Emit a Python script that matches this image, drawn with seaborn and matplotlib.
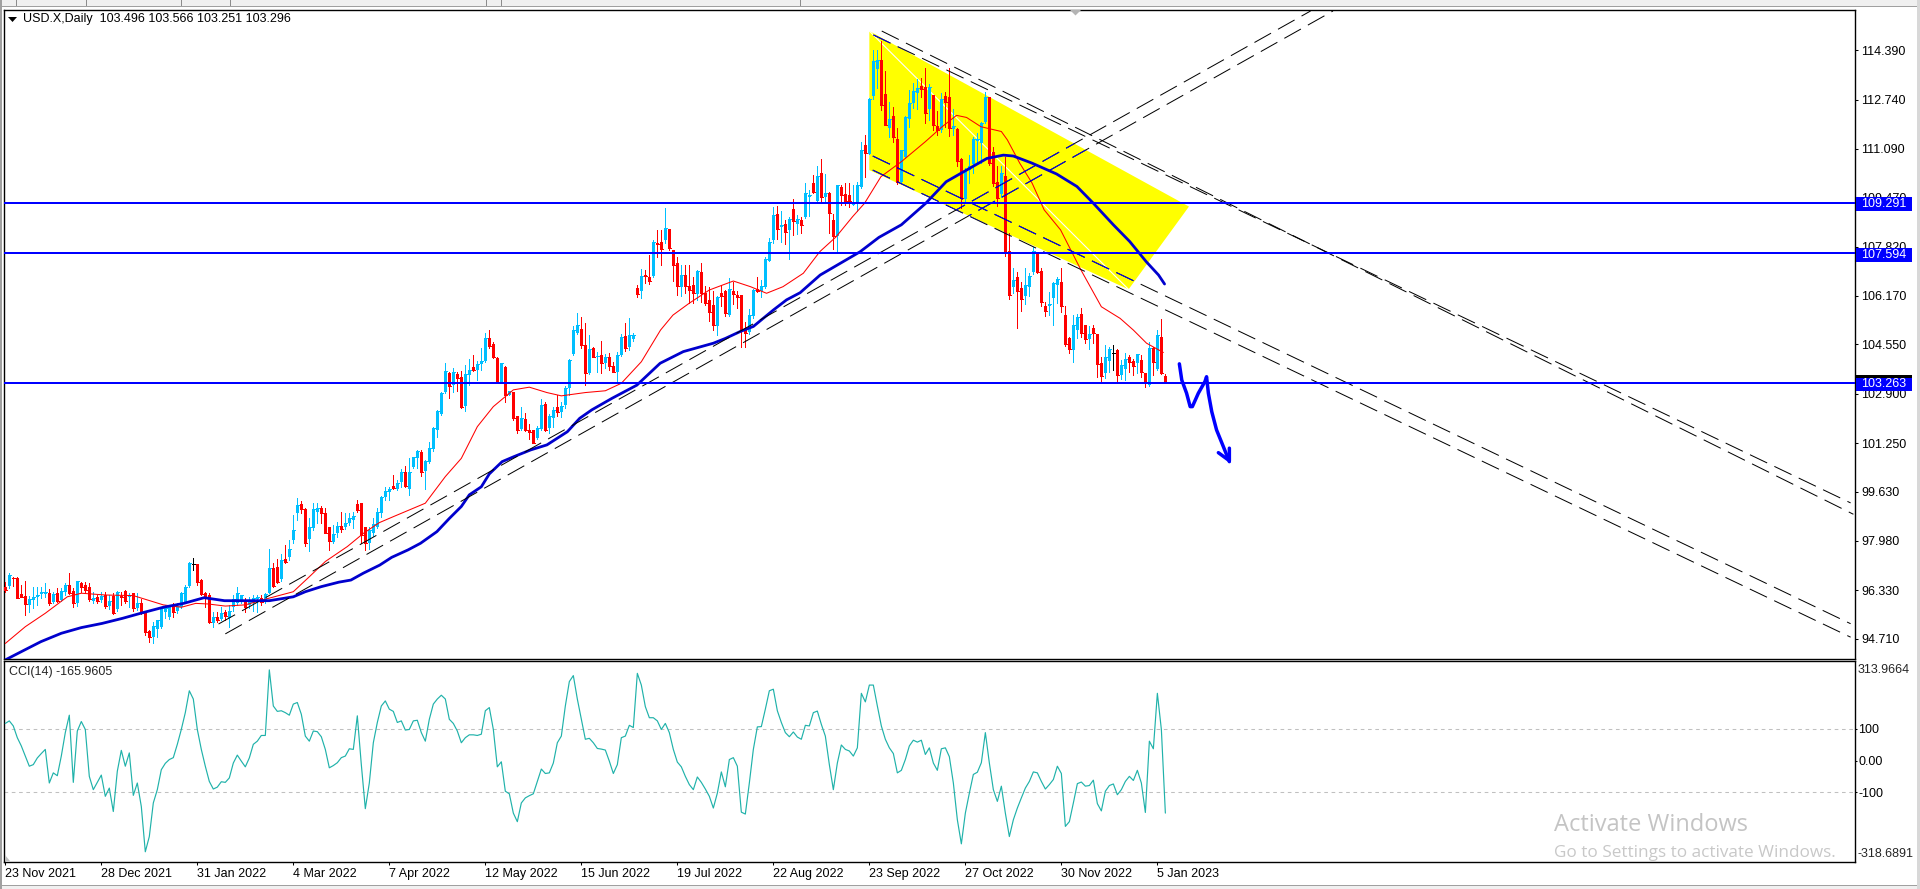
import numpy as np
import pandas as pd
import matplotlib
matplotlib.use("Agg")
import matplotlib.pyplot as plt
import matplotlib.transforms as mtransforms
from matplotlib.patches import Polygon, Rectangle
import seaborn as sns

# candles, one value per daily bar
opens = [
    96.45,96.47,96.75,96.75,96.19,96.14,95.84,96.00,96.11,96.20,
    96.20,96.23,95.94,96.23,96.00,96.26,96.50,96.30,95.89,96.56,
    96.50,96.43,95.98,96.09,96.00,96.17,95.81,96.14,95.69,96.14,
    96.30,96.11,96.23,95.72,95.91,95.58,94.98,94.75,95.02,95.09,
    95.61,95.45,95.80,95.65,95.78,95.95,96.48,97.21,97.21,96.67,
    96.25,96.17,95.24,95.42,95.36,95.61,95.39,95.78,95.91,96.00,
    96.00,95.84,95.89,96.03,96.08,96.00,96.25,97.06,97.10,96.69,
    97.37,97.43,98.01,98.92,99.21,99.04,98.03,98.40,98.96,99.09,
    98.90,98.43,97.94,98.23,98.48,98.45,98.57,98.68,99.21,99.26,
    98.46,97.90,98.23,98.46,98.92,99.46,99.63,99.83,99.70,99.96,
    100.28,99.70,100.44,100.74,100.95,100.32,100.63,101.04,101.69,102.22,
    102.96,103.61,103.19,103.56,103.45,102.50,103.53,103.81,103.70,103.88,
    104.00,104.75,104.57,104.11,103.27,103.81,102.86,102.95,102.16,101.71,
    102.06,101.69,101.69,101.41,101.72,102.56,101.74,102.10,102.45,102.30,
    102.53,103.08,104.23,104.94,105.06,104.53,103.58,104.42,104.12,104.20,
    103.92,104.12,103.83,103.64,104.20,104.83,104.48,104.73,106.43,106.32,
    106.87,106.80,106.84,107.93,107.98,108.04,108.40,107.71,107.26,106.48,
    106.87,106.50,106.54,106.24,106.96,106.28,106.04,105.87,105.18,106.26,
    106.32,105.53,106.32,106.20,106.20,105.03,104.98,105.51,106.39,106.35,
    106.46,107.35,108.04,108.91,108.47,108.58,108.38,109.07,108.58,108.71,
    108.80,109.47,109.96,109.33,110.27,109.49,109.60,108.71,108.18,109.80,
    109.58,109.55,109.21,109.24,109.83,111.22,110.92,112.86,113.76,114.06,
    112.93,111.80,112.19,111.42,109.99,110.81,112.10,112.61,112.95,113.20,
    113.17,112.41,112.89,111.86,111.72,112.86,112.84,111.74,111.74,110.74,
    109.40,110.38,110.59,111.35,111.27,112.00,112.81,111.00,109.97,109.58,
    110.18,107.67,106.48,106.82,106.43,106.18,106.46,106.96,107.60,107.01,
    105.84,105.84,106.11,106.54,106.65,105.54,104.78,104.36,105.03,105.57,
    105.20,104.72,105.10,104.90,103.92,103.58,104.01,104.25,104.36,103.53,
    103.73,104.14,103.98,103.94,104.03,103.58,103.19,104.44,103.73,104.79,
    103.496]
highs = [
    96.62,96.89,96.76,96.76,96.50,96.64,96.14,96.45,96.45,96.45,
    96.58,96.36,96.28,96.39,96.39,96.56,96.89,96.39,96.64,96.62,
    96.62,96.58,96.28,96.17,96.28,96.28,96.17,96.23,96.30,96.28,
    96.34,96.23,96.25,96.23,96.05,95.60,95.00,95.28,95.33,95.78,
    95.84,95.84,95.89,95.89,96.28,96.50,97.29,97.40,97.22,96.69,
    96.28,96.23,95.61,95.61,95.78,95.67,95.84,96.17,96.43,96.17,
    96.06,96.11,96.17,96.17,96.17,96.23,97.70,97.23,97.36,97.54,
    97.84,98.01,98.85,99.40,99.31,99.07,98.74,99.26,99.26,99.15,
    99.07,98.46,98.51,98.62,98.96,98.90,98.92,98.96,99.35,99.26,
    98.46,98.46,98.74,99.07,99.48,99.77,99.79,100.18,100.02,100.37,
    100.48,100.74,100.77,101.02,101.02,100.68,101.30,101.80,102.36,102.97,
    103.94,103.64,103.75,103.64,103.67,103.86,104.06,104.20,104.00,104.42,
    104.94,105.03,104.64,104.12,103.92,103.82,103.00,102.97,102.17,102.45,
    102.25,101.89,101.70,101.82,102.71,102.64,102.22,102.45,102.86,102.64,
    103.16,104.05,105.17,105.59,105.48,105.26,104.87,104.48,104.29,104.68,
    104.23,104.27,103.97,104.31,104.90,105.28,105.42,104.92,106.55,107.06,
    107.04,107.54,108.04,108.38,108.38,109.10,108.42,107.72,107.49,107.21,
    107.21,107.21,106.82,107.04,107.26,106.50,106.48,106.32,106.17,106.54,
    106.37,106.76,106.65,106.32,106.21,105.31,105.72,106.39,106.82,106.70,
    107.46,108.10,109.16,109.18,109.02,108.71,108.82,109.40,108.88,108.82,
    109.96,109.72,110.22,110.52,110.74,110.24,109.66,108.91,109.88,109.88,
    109.94,109.94,109.88,109.97,111.33,111.55,112.78,114.40,114.40,114.71,
    113.71,112.65,112.48,111.78,111.06,112.19,113.06,113.28,113.42,113.45,
    113.78,113.26,112.90,112.34,112.95,113.00,113.78,112.41,111.78,110.77,
    110.44,110.89,111.50,111.61,112.00,112.98,112.82,111.14,110.53,110.53,
    110.83,108.27,107.12,106.96,106.63,107.12,106.93,107.82,107.65,107.10,
    105.96,106.30,106.65,106.82,107.12,105.84,104.79,105.54,105.57,105.76,
    105.21,105.17,105.20,104.91,104.14,104.53,104.48,104.53,104.39,104.03,
    104.25,104.20,104.05,104.23,104.20,103.60,104.62,104.48,105.03,105.40,
    103.566]
lows = [
    96.28,96.39,96.47,96.06,96.09,95.50,95.61,95.72,95.84,96.06,
    96.09,95.84,95.89,95.92,95.98,96.17,96.19,95.78,95.80,96.28,
    96.25,95.98,95.89,95.89,95.95,95.72,95.70,95.53,95.65,95.84,
    95.89,95.78,95.65,95.67,95.53,94.83,94.59,94.58,94.78,95.06,
    95.39,95.36,95.45,95.58,95.72,95.89,96.45,97.01,96.50,96.17,
    95.78,95.22,95.11,95.26,95.33,95.33,95.09,95.65,95.84,95.89,
    95.61,95.72,95.65,95.61,95.84,95.91,96.23,96.45,96.56,96.65,
    97.23,97.34,97.90,98.68,98.92,97.81,97.64,98.34,98.57,98.57,
    98.23,97.68,97.90,98.10,98.29,98.37,98.51,98.40,98.96,97.90,
    97.68,97.70,98.14,98.40,98.77,99.35,99.35,99.73,99.68,99.79,
    99.79,99.51,100.43,100.41,100.15,99.73,100.57,101.00,101.47,102.19,
    102.94,102.75,102.97,103.00,102.42,102.33,103.19,103.67,103.36,103.70,
    103.97,104.42,104.08,103.25,103.25,102.64,102.85,102.02,101.60,101.69,
    101.67,101.38,101.24,101.39,101.69,101.67,101.60,101.78,102.16,102.11,
    102.41,102.86,104.20,104.90,104.42,103.19,103.56,104.12,103.64,103.58,
    103.75,103.70,103.64,103.34,104.16,104.34,104.36,104.68,106.13,106.09,
    106.59,106.57,106.82,107.49,107.21,107.95,107.71,106.68,106.20,106.18,
    106.26,105.92,105.95,106.04,105.98,105.87,105.34,105.03,104.87,105.84,
    105.50,105.51,105.90,105.76,104.47,104.47,104.90,105.42,106.30,106.15,
    106.45,107.34,107.93,108.07,107.99,107.90,107.41,108.21,108.24,108.27,
    108.77,108.85,109.63,109.30,109.33,109.33,108.27,107.74,107.60,109.21,
    109.21,109.16,109.20,109.02,109.77,110.16,110.91,112.75,113.11,112.39,
    111.88,111.48,111.33,109.92,109.94,110.77,111.81,112.45,112.41,112.84,
    111.97,112.06,111.72,111.55,111.67,111.83,111.52,111.55,110.53,109.10,
    109.27,109.94,110.27,110.61,110.61,111.94,110.55,109.86,109.19,109.49,
    107.51,106.06,106.26,105.11,105.68,105.90,106.18,106.89,106.93,105.84,
    105.51,105.54,105.20,105.93,105.65,104.50,104.27,103.96,104.78,104.79,
    104.61,104.40,104.61,103.47,103.34,103.44,103.64,103.70,103.34,103.38,
    103.36,103.64,103.53,103.61,103.47,103.12,103.16,103.53,103.69,103.56,
    103.251]
closes = [
    96.34,96.84,96.73,96.08,96.10,95.87,96.03,96.11,96.17,96.26,
    96.28,95.91,96.20,95.97,96.30,96.50,96.23,95.89,96.64,96.43,
    96.34,96.03,96.06,95.97,96.15,95.81,95.98,95.58,96.26,96.11,
    95.97,96.17,95.72,95.89,95.58,94.94,94.78,95.13,95.33,95.72,
    95.72,95.80,95.61,95.81,96.23,96.45,97.23,97.21,96.62,96.20,
    96.09,95.28,95.42,95.33,95.56,95.48,95.65,96.03,96.23,96.17,
    95.78,95.95,96.06,96.09,95.95,96.20,97.08,96.47,96.62,97.34,
    97.29,97.71,98.34,99.18,99.05,97.92,98.46,99.05,99.07,98.90,
    98.26,97.99,98.21,98.48,98.37,98.57,98.74,98.81,99.01,98.18,
    97.90,98.34,98.54,98.96,99.46,99.66,99.73,99.76,99.93,100.30,
    99.81,100.28,100.77,101.00,100.28,100.65,101.09,101.77,102.33,102.91,
    103.66,103.17,103.62,103.42,102.45,103.56,103.70,103.70,103.90,104.00,
    104.75,104.50,104.12,103.27,103.92,102.86,103.00,102.08,101.69,102.08,
    101.69,101.63,101.26,101.74,102.53,101.69,102.17,102.36,102.28,102.49,
    103.08,104.03,105.03,105.20,104.53,103.61,104.40,104.14,104.16,103.92,
    104.12,103.83,103.64,104.20,104.81,104.42,104.87,104.87,106.23,106.84,
    106.84,106.68,107.98,107.91,107.74,108.43,107.76,107.21,106.52,106.87,
    106.50,106.37,106.26,107.02,106.26,105.95,105.65,105.20,106.15,106.17,
    105.59,106.39,106.23,106.15,105.03,104.94,105.53,106.37,106.32,106.50,
    107.41,107.97,108.88,108.41,108.55,108.32,108.75,108.69,108.73,108.56,
    109.63,109.55,109.66,110.18,109.49,109.63,108.94,108.19,109.88,109.55,
    109.33,109.33,109.27,109.88,111.05,110.94,112.76,114.03,114.06,112.56,
    111.89,112.09,111.48,109.97,111.05,112.17,112.61,113.03,113.14,113.09,
    112.28,113.17,111.89,111.72,112.76,112.65,111.78,111.86,110.69,109.44,
    110.38,110.52,111.42,111.41,111.97,112.84,110.61,109.96,109.44,110.27,
    107.65,106.20,106.71,106.35,106.07,106.54,106.85,107.68,106.96,105.98,
    105.68,105.90,106.62,106.74,105.84,104.56,104.40,105.20,105.46,104.92,
    104.72,104.90,104.92,103.90,103.50,104.12,104.40,104.25,103.53,103.86,
    104.05,103.96,103.83,104.23,103.62,103.27,104.44,103.95,104.87,103.58,
    103.296]
cci = [
    117,125,109,72,46,14,-18,-13,8,22,
    35,-71,-39,-48,14,88,143,-69,93,123,
    98,-50,-92,-69,-46,-113,-87,-161,-34,32,
    -18,24,-110,-71,-145,-288,-240,-134,-92,-29,
    -9,3,9,51,98,151,220,194,98,35,
    -18,-66,-90,-84,-67,-69,-55,-8,17,-2,
    -20,8,51,61,79,79,286,172,155,157,
    151,143,178,183,146,77,61,93,91,75,
    35,-23,-16,-7,9,14,37,35,141,-13,
    -152,-71,56,120,172,188,162,155,120,125,
    96,98,125,127,88,61,130,178,194,206,
    194,130,117,93,56,72,81,81,79,83,
    157,167,98,-20,-4,-97,-105,-166,-193,-134,
    -118,-111,-105,-66,-27,-41,-39,-8,56,77,
    172,249,268,194,130,67,70,56,38,36,
    33,-2,-41,-13,72,77,111,104,275,238,
    170,135,135,125,98,117,88,35,-5,-20,
    -50,-76,-92,-52,-69,-90,-113,-150,-103,-36,
    -83,3,9,-18,-163,-169,-71,35,106,107,
    162,220,225,157,120,88,75,90,74,67,
    111,109,151,156,114,77,-13,-92,-8,49,
    35,30,14,40,212,185,238,238,172,109,
    67,40,22,-39,-31,3,46,64,58,64,
    19,40,-8,-31,37,40,12,-71,-187,-263,
    -166,-103,-44,-37,-7,88,-8,-92,-129,-81,
    -166,-240,-187,-150,-118,-87,-66,-36,-39,-66,
    -90,-76,-60,-18,-41,-208,-193,-134,-73,-68,
    -81,-79,-62,-136,-159,-97,-79,-74,-108,-92,
    -66,-50,-63,-31,-71,-164,61,37,212,98,
    -165.9605]

# moving averages, vertices
red_ma_bar = [0,5,10,15.5,19,25,32,39.5,44,47.6,50.7,55,60,65,72,76,80,85.5,89.5,93.5,97,105,110,114,118,122,127,131,
              135.4,139,145,150,154,159,163.8,166.9,171,176,182,186.3,190.3,194.4,199.5,203.6,207.7,211.8,214.8,
              218.9,224,230,234.2,237.8,240.3,243.9,249,250.5,253.6,256.7,259.7,263.8,268.9,274,278.7,282,285.3,289.5]
red_ma_val = [94.55,95.11,95.56,96.11,96.23,96.17,96.15,95.84,95.76,95.89,95.87,95.80,95.84,96.03,96.28,96.78,97.29,97.79,
              98.23,98.59,98.79,99.24,100.13,100.74,101.80,102.47,103.03,103.12,102.94,102.83,102.94,103.00,103.25,103.97,
              105.03,105.53,105.93,106.37,106.67,106.48,106.26,106.48,106.93,107.65,108.15,108.82,109.27,110.16,110.66,
              111.33,111.83,112.21,112.14,111.83,111.67,111.39,110.61,109.94,109.05,108.38,107.04,105.81,105.42,105.03,
              104.59,104.28]
blue_ma_bar = [0,4.8,8.9,14,19,24.2,29.3,34.4,39.5,44.6,49.7,54.8,60,66,72,75,79,83.4,86.4,89.5,93.6,96.6,100.7,103.8,
               107.9,111,114,116,119,121,124.2,127.2,131.3,135.4,140.5,143.6,146.6,151.7,157.9,
               163.7,169.5,177,180,183.7,187,192,195.3,198.7,203.7,208.7,213.7,218.4,224,230.1,235.2,240.3,245.4,249.5,
               252,256.7,262.8,267.9,272,277,281.1,285.2,288.3,289.8]
blue_ma_val = [94.00,94.33,94.61,94.89,95.08,95.22,95.39,95.58,95.76,95.89,96.08,95.98,95.98,95.98,96.11,96.28,96.45,
               96.60,96.67,96.90,97.17,97.43,97.68,97.90,98.29,98.73,99.13,99.52,99.79,100.22,100.63,100.80,101.02,101.19,
               101.63,102.08,102.36,102.75,103.19,103.92,104.31,104.59,104.75,104.98,105.15,105.70,106.04,106.28,106.87,
               107.26,107.65,108.13,108.55,109.27,109.99,110.38,110.77,110.88,110.85,110.61,110.25,109.83,109.27,108.55,
               107.99,107.32,106.87,106.57]

# horizontal levels and trend lines
levels = [109.291, 107.594, 103.263]
level_labels = ["109.291", "107.594", "103.263"]
up1_bar, up1_val = [53.3, 326.3], [95.20, 115.70]
up2_bar, up2_val = [55.0, 331.9], [94.87, 115.70]
down1_bar, down1_val = [219.1, 462.0], [115.03, 98.87]
down2_bar, down2_val = [217.0, 461.3], [114.90, 99.25]
down3_bar, down3_val = [216.85, 461.3], [110.85, 95.21]
down4_bar, down4_val = [216.85, 461.3], [110.38, 94.76]

# yellow channel
zone_bar = [216.0, 216.0, 280.8, 295.9]
zone_val = [115.03, 110.38, 106.39, 109.16]

# hand drawn arrow
arrow_bar = [293.5,294.1,295.3,296.2,296.75,298.25,299.9,300.3,300.75,301.6,302.8,304.5,306.0]
arrow_val = [103.90,103.36,102.92,102.47,102.47,102.92,103.31,103.47,102.92,102.30,101.69,101.13,100.63]
arrow_head_bar = [303.25, 306.0, 306.0]
arrow_head_val = [100.93, 100.66, 101.08]

price_ticks = [114.390,112.740,111.090,109.470,107.820,106.170,104.550,102.900,101.250,99.630,97.980,96.330,94.710]
date_ticks = [0,24,48,72,96,120,144,168,192,216,240,264,288]
date_labels = ["23 Nov 2021","28 Dec 2021","31 Jan 2022","4 Mar 2022","7 Apr 2022","12 May 2022","15 Jun 2022",
               "19 Jul 2022","22 Aug 2022","23 Sep 2022","27 Oct 2022","30 Nov 2022","5 Jan 2023"]

W, H = 1920, 889
BLUE = "#0000FF"
UP = "#00BFFF"
DOWN = "#FF0000"
TEAL = "#20B2AA"


def fx(x):
    return x / W


def fy(y):
    return 1 - y / H


def draw_candles(ax, df):
    colors = np.where(df.close > df.open, UP, np.where(df.close < df.open, DOWN, "black"))
    ax.vlines(df.bar, df.low, df.high, colors=colors, linewidth=0.72, antialiased=False, zorder=3)
    bottom = df[["open", "close"]].min(axis=1)
    height = (df.close - df.open).abs()
    ax.bar(df.bar, height, bottom=bottom, width=0.72, color=colors, linewidth=0, antialiased=False, zorder=3)
    # thin bodies still need one pixel row
    ax.hlines(df.close, df.bar - 0.36, df.bar + 0.36, colors=colors, linewidth=0.72, antialiased=False, zorder=3)


def dashed(ax, bars, vals, zone):
    # black outside the zone, blue on top of the yellow
    ax.plot(bars, vals, color="black", linewidth=0.72, linestyle=(0, (19, 8)), zorder=5)
    line, = ax.plot(bars, vals, color=BLUE, linewidth=0.72, linestyle=(0, (19, 8)), zorder=5.1)
    line.set_clip_path(zone)


sns.set_style("white")
plt.rcParams["font.family"] = ["Liberation Sans", "DejaVu Sans"]
plt.rcParams["font.size"] = 9

candles = pd.DataFrame({"bar": np.arange(len(closes)), "open": opens, "high": highs, "low": lows, "close": closes})
indicator = pd.DataFrame({"bar": np.arange(len(cci)), "cci": cci})

fig = plt.figure(figsize=(W / 100, H / 100), dpi=100, facecolor="white")
ax = fig.add_axes([fx(4), fy(659), fx(1851), 649.5 / H])
ax2 = fig.add_axes([fx(4), fy(861.5), fx(1851), 200.5 / H])

for a in (ax, ax2):
    a.set_xlim(-0.325, 462.4)
    for side in a.spines:
        a.spines[side].set_color("black")
        a.spines[side].set_linewidth(1.0)

ax.set_ylim(94.03, 115.75)
ax2.set_ylim(-318.6891, 313.9664)

zone = Polygon(list(zip(zone_bar, zone_val)), closed=True, facecolor="#FFFF00", edgecolor="none", zorder=1)
ax.add_patch(zone)
ax.plot([zone_bar[0], zone_bar[2]], [zone_val[0], zone_val[2]], color="white", linewidth=0.8, zorder=1.5)

draw_candles(ax, candles)

sns.lineplot(x=red_ma_bar, y=red_ma_val, ax=ax, color=DOWN, linewidth=0.75, estimator=None, sort=False, legend=False, zorder=4)
sns.lineplot(x=blue_ma_bar, y=blue_ma_val, ax=ax, color="#0000CD", linewidth=2.0, estimator=None, sort=False, legend=False, zorder=4)

for bars, vals in [(up1_bar, up1_val), (up2_bar, up2_val), (down1_bar, down1_val),
                   (down2_bar, down2_val), (down3_bar, down3_val), (down4_bar, down4_val)]:
    dashed(ax, bars, vals, zone)

for lv in levels:
    ax.axhline(lv, color=BLUE, linewidth=1.44, zorder=6)

ax.plot(arrow_bar, arrow_val, color=BLUE, linewidth=2.5, solid_capstyle="round", zorder=7)
ax.plot(arrow_head_bar, arrow_head_val, color=BLUE, linewidth=2.5, solid_capstyle="round", zorder=7)

ax.yaxis.tick_right()
ax.set_yticks(price_ticks)
ax.set_yticklabels(["%.3f" % v for v in price_ticks])
ax.tick_params(axis="y", length=2.2, width=0.75, pad=2.5, labelsize=9, colors="black", right=True, left=False)
ax.set_xticks([])
ax.text(fx(23), fy(19), "USD.X,Daily  103.496 103.566 103.251 103.296", transform=fig.transFigure,
        fontsize=9, va="center", ha="left", color="black")

sns.lineplot(data=indicator, x="bar", y="cci", ax=ax2, color=TEAL, linewidth=0.85, estimator=None, legend=False, zorder=3)
for lv in (100, -100):
    ax2.axhline(lv, color="#C0C0C0", linewidth=0.75, linestyle=(0, (3.5, 3.5)), zorder=1)
ax2.set_xlabel("")
ax2.set_ylabel("")
ax2.yaxis.tick_right()
ax2.set_yticks([100, 0, -100])
ax2.set_yticklabels(["100", "0.00", "-100"])
ax2.tick_params(axis="y", length=1.5, width=0.75, pad=0.8, labelsize=9, colors="black", right=True, left=False)
ax2.set_xticks(date_ticks)
ax2.set_xticklabels(date_labels, ha="left")
ax2.tick_params(axis="x", length=2.2, width=0.75, pad=2.5, labelsize=9, colors="black", bottom=True)
ax2.text(fx(9), fy(672), "CCI(14) -165.9605", transform=fig.transFigure, fontsize=9, va="center", ha="left")
fig.text(fx(1858), fy(670), "313.9664", fontsize=9, va="center", ha="left")
fig.text(fx(1858), fy(854), "-318.6891", fontsize=9, va="center", ha="left")

# blue price boxes on the scale, above the tick labels
box_trans = mtransforms.blended_transform_factory(fig.transFigure, ax.transData)
for lv, lab in zip(levels, level_labels):
    fig.patches.append(Rectangle((fx(1856), lv - 0.28), fx(56), 0.47, transform=box_trans,
                                 facecolor=BLUE, edgecolor="none", zorder=5, figure=fig))
    fig.text(fx(1861), lv - 0.045, lab, transform=box_trans, color="white", fontsize=9,
             va="center", ha="left", zorder=6)
fig.patches.append(Rectangle((fx(1856), fy(378)), fx(56), 3 / H, transform=fig.transFigure,
                             facecolor="black", edgecolor="none", zorder=5, figure=fig))

# terminal window chrome
fig.patches.append(Rectangle((0, fy(5.5)), 1, 5.5 / H, transform=fig.transFigure, facecolor="#F0F0F0",
                             edgecolor="none", zorder=5, figure=fig))
fig.patches.append(Rectangle((0, fy(7)), 1, 1.5 / H, transform=fig.transFigure, facecolor="#A0A0A0",
                             edgecolor="none", zorder=5, figure=fig))
fig.patches.append(Rectangle((0, fy(889)), 1, 4 / H, transform=fig.transFigure, facecolor="#F0F0F0",
                             edgecolor="none", zorder=5, figure=fig))
fig.patches.append(Rectangle((0, fy(886)), 1, 1.2 / H, transform=fig.transFigure, facecolor="#A0A0A0",
                             edgecolor="none", zorder=5, figure=fig))
fig.patches.append(Rectangle((0, 0), 1.5 / W, 1, transform=fig.transFigure, facecolor="#A0A0A0",
                             edgecolor="none", zorder=5, figure=fig))
fig.patches.append(Rectangle((fx(1917), 0), 3 / W, 1, transform=fig.transFigure, facecolor="#D8D8D8",
                             edgecolor="none", zorder=5, figure=fig))
for sep in (16, 86, 181, 230, 486, 501, 800):
    fig.patches.append(Rectangle((fx(sep), fy(5.5)), 1 / W, 5.5 / H, transform=fig.transFigure,
                                 facecolor="#8C8C8C", edgecolor="none", zorder=6, figure=fig))

fig.patches.append(Polygon([(fx(8), fy(17)), (fx(17), fy(17)), (fx(12.5), fy(22))], closed=True,
                           transform=fig.transFigure, facecolor="black", edgecolor="none", zorder=6, figure=fig))
fig.patches.append(Polygon([(fx(1070), fy(10)), (fx(1081), fy(10)), (fx(1075.5), fy(15.5))], closed=True,
                           transform=fig.transFigure, facecolor="#B4B4B4", edgecolor="none", zorder=6, figure=fig))
fig.patches.append(Polygon([(fx(4.5), fy(855)), (fx(4.5), fy(861)), (fx(10), fy(861))], closed=True,
                           transform=fig.transFigure, facecolor="#C0C0C0", edgecolor="none", zorder=6, figure=fig))

# windows watermark
fig.text(fx(1554), fy(825), "Activate Windows", family="Open Sans", fontsize=17, color="#C4C4C4",
         va="center", ha="left", zorder=7)
fig.text(fx(1554), fy(853), "Go to Settings to activate Windows.", family="Open Sans", fontsize=12.3, color="#C8C8C8",
         va="center", ha="left", zorder=7)

fig.savefig("out.png", dpi=100)
